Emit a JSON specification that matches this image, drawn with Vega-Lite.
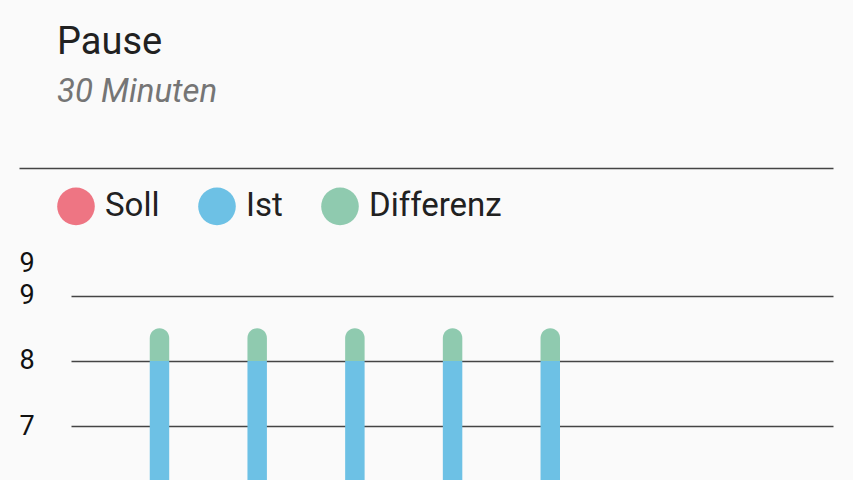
{
  "$schema": "https://vega.github.io/schema/vega-lite/v6.json",
  "background": "#fafafa",
  "padding": {"left": 19, "right": 20, "top": 24, "bottom": 0},
  "config": {"view": {"stroke": null}},
  "title": {
    "text": "Pause",
    "subtitle": "30 Minuten",
    "anchor": "start",
    "frame": "bounds",
    "dx": 38,
    "font": "Roboto",
    "fontSize": 38,
    "fontWeight": "normal",
    "color": "#212121",
    "subtitleFont": "Roboto",
    "subtitleFontSize": 33,
    "subtitleFontStyle": "italic",
    "subtitleColor": "#757575",
    "subtitlePadding": 14,
    "offset": 59
  },
  "data": {
    "values": [
      {"tag": "Mo", "reihe": "Ist", "von": 0, "bis": 8},
      {"tag": "Mo", "reihe": "Differenz", "von": 8, "bis": 8.5},
      {"tag": "Di", "reihe": "Ist", "von": 0, "bis": 8},
      {"tag": "Di", "reihe": "Differenz", "von": 8, "bis": 8.5},
      {"tag": "Mi", "reihe": "Ist", "von": 0, "bis": 8},
      {"tag": "Mi", "reihe": "Differenz", "von": 8, "bis": 8.5},
      {"tag": "Do", "reihe": "Ist", "von": 0, "bis": 8},
      {"tag": "Do", "reihe": "Differenz", "von": 8, "bis": 8.5},
      {"tag": "Fr", "reihe": "Ist", "von": 0, "bis": 8},
      {"tag": "Fr", "reihe": "Differenz", "von": 8, "bis": 8.5}
    ]
  },
  "width": 814,
  "height": 620,
  "encoding": {
    "x": {
      "field": "tag",
      "type": "nominal",
      "scale": {
        "domain": ["Mo", "Di", "Mi", "Do", "Fr", "Sa", "So"],
        "paddingInner": 0.668,
        "paddingOuter": 1,
        "align": 0.636
      },
      "axis": {
        "orient": "top",
        "title": null,
        "labels": false,
        "ticks": false,
        "grid": false,
        "domain": true,
        "domainColor": "#444444",
        "domainWidth": 1.5,
        "offset": 95
      }
    },
    "y": {
      "field": "bis",
      "type": "quantitative",
      "scale": {"domain": [0, 9.5], "nice": false},
      "axis": {
        "title": null,
        "values": [7, 8, 9, 9.5],
        "labelExpr": "floor(datum.value)",
        "labelAlign": "left",
        "labelPadding": 0,
        "labelFont": "Roboto",
        "labelFontSize": 27,
        "labelColor": "#111111",
        "ticks": false,
        "domain": false,
        "gridColor": "#444444",
        "gridWidth": 1.5,
        "gridDash": [0, 52, 762],
        "gridOpacity": {"condition": {"test": "datum.value > 9", "value": 0}, "value": 1}
      }
    },
    "y2": {"field": "von"},
    "color": {
      "field": "reihe",
      "type": "nominal",
      "scale": {"domain": ["Soll", "Ist", "Differenz"], "range": ["#ee7583", "#6dc1e5", "#8fcaaf"]},
      "legend": {
        "title": null,
        "orient": "none",
        "direction": "horizontal",
        "legendX": 38,
        "legendY": -75.7,
        "symbolType": "circle",
        "symbolSize": 1414,
        "symbolStrokeWidth": 0,
        "symbolOpacity": 1,
        "labelFont": "Roboto",
        "labelFontSize": 33,
        "labelColor": "#212121",
        "labelOffset": 10,
        "columnPadding": 38
      }
    }
  },
  "layer": [
    {
      "transform": [{"filter": "datum.reihe == 'Ist'"}],
      "mark": {"type": "bar", "width": {"band": 0.6}}
    },
    {
      "transform": [{"filter": "datum.reihe == 'Differenz'"}],
      "mark": {"type": "bar", "width": {"band": 0.6}, "cornerRadiusTopLeft": 9.75, "cornerRadiusTopRight": 9.75}
    }
  ]
}
